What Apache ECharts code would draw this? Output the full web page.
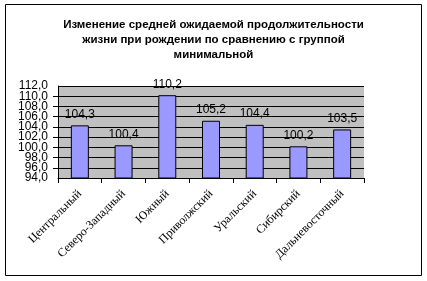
<!DOCTYPE html>
<html><head><meta charset="utf-8">
<script src="https://cdn.jsdelivr.net/npm/echarts@6/dist/echarts.min.js"></script>
<style>html,body{margin:0;padding:0;background:#fff}#c{width:427px;height:281px}</style>
</head><body><div id="c"></div>
<script>
const categories = ['Центральный','Северо-Западный','Южный','Приволжский','Уральский','Сибирский','Дальневосточный'];
const values = [104.3, 100.4, 110.2, 105.2, 104.4, 100.2, 103.5];
const yMin = 94, yMax = 112, yStep = 2;
const titleText = 'Изменение средней ожидаемой продолжительности\nжизни при рождении по сравнению с группой\nминимальной';

const fmt = v => v.toFixed(1).replace('.', ',');
const yLabelStyle = {margin:10, fontFamily:'Liberation Sans, Arial', fontSize:12, color:'#000'};

const chart = echarts.init(document.getElementById('c'), null, {renderer:'canvas'});
chart.setOption({
  animation:false,
  backgroundColor:'#fff',
  graphic:[{type:'rect', shape:{x:5.5,y:4.5,width:416,height:271}, style:{fill:'none',stroke:'#000',lineWidth:1}, z:-1}],
  title:{text:titleText, left:'center', top:12, textStyle:{fontFamily:'Liberation Sans, Arial', fontWeight:'bold', fontSize:11.5, lineHeight:15, color:'#000'}},
  grid:{left:58, right:63, top:86, bottom:103, show:true, backgroundColor:'#c0c0c0', borderWidth:0},
  xAxis:{type:'category', data:categories,
    axisLine:{lineStyle:{color:'#000',width:1}},
    axisTick:{show:true, length:5, lineStyle:{color:'#000'}},
    axisLabel:{rotate:45, interval:0, margin:14, fontFamily:'Liberation Serif, Times New Roman', fontSize:12, color:'#000'}},
  yAxis:[
    {type:'value', min:yMin, max:yMax, interval:yStep, position:'left',
      axisLine:{show:true, lineStyle:{color:'#000'}},
      axisTick:{show:true, length:5, lineStyle:{color:'#000'}},
      splitLine:{show:true, lineStyle:{color:'#000', width:1}},
      axisLabel:Object.assign({}, yLabelStyle, {showMinLabel:false, showMaxLabel:false, formatter:fmt})},
    {type:'value', min:yMin, max:yMax, interval:yStep, position:'left', offset:0,
      axisLine:{show:false}, axisTick:{show:false}, splitLine:{show:false},
      axisLabel:Object.assign({}, yLabelStyle, {showMinLabel:true, showMaxLabel:true,
        formatter:v => (v === yMin || v === yMax) ? fmt(v) : ''})}
  ],
  series:[{type:'bar', data:values, barWidth:18, yAxisIndex:0,
    itemStyle:{color:'#9999ff', borderColor:'#000', borderWidth:1},
    label:{show:true, position:'top', distance:5, fontFamily:'Liberation Sans, Arial', fontSize:12, color:'#000',
      formatter:p=>fmt(p.value)}}]
});
</script></body></html>
